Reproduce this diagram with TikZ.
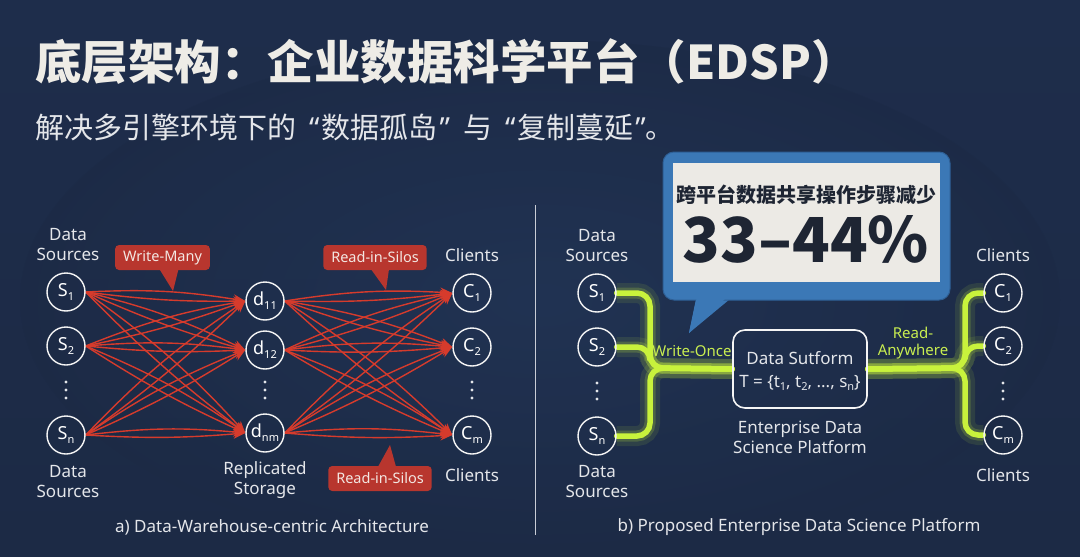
\documentclass[tikz,border=0pt]{standalone}
\usepackage{fontspec}
\setmainfont{Noto Sans}
\newfontfamily\cjk{Noto Sans CJK SC}
\usetikzlibrary{arrows.meta,calc}
\definecolor{bgtop}{HTML}{1E2D4B}
\definecolor{bgbot}{HTML}{1C2A45}
\definecolor{bgmid}{HTML}{24395C}
\definecolor{titlec}{HTML}{EEECE6}
\definecolor{textc}{HTML}{E4E6EA}
\definecolor{tagred}{HTML}{B8362E}
\definecolor{tagtext}{HTML}{F3E7E2}
\definecolor{wirered}{HTML}{D63B2C}
\definecolor{lime}{HTML}{C8F23C}
\definecolor{limetext}{HTML}{C9EE50}
\definecolor{callblue}{HTML}{3B78B6}
\definecolor{callborder}{HTML}{2E5F95}
\definecolor{paper}{HTML}{ECEAE5}
\definecolor{ink}{HTML}{1E2533}
\definecolor{divider}{HTML}{C9CDD6}
\pgfdeclarelayer{bglayer}
\pgfdeclarelayer{wires}
\pgfsetlayers{bglayer,wires,main}
\newcommand{\lowsub}[1]{\raisebox{-0.4ex}{\fontsize{11}{11}\selectfont #1}}
\newcommand{\myopenq}{{\rmfamily “}}
\newcommand{\mycloseq}{{\rmfamily ”}}
\tikzset{
  circ/.style={circle, draw=white!92!gray, line width=1.4pt, minimum size=38pt, inner sep=0pt, text=white, font=\fontsize{18}{18}\selectfont},
  lbl/.style={text=textc, font=\fontsize{17}{20}\selectfont, align=center},
  caption/.style={text=textc, font=\fontsize{17}{18}\selectfont},
  redtag/.style={fill=tagred, rounded corners=4pt, text=tagtext, font=\fontsize{14.5}{15}\selectfont, minimum height=25pt, inner xsep=8pt},
  redw/.style={draw=wirered, line width=1.4pt, -{Stealth[length=12pt,width=9.5pt]}},
  glow/.style={draw=lime, line width=5.5pt, rounded corners=13pt, line cap=round,
    preaction={draw=lime, opacity=.10, line width=20pt},
    preaction={draw=lime, opacity=.20, line width=11pt}},
  dotf/.style={fill=textc}
}
\begin{document}
\begin{tikzpicture}[x=1pt,y=-1pt]
\useasboundingbox (0,0) rectangle (1080,557);
\begin{pgfonlayer}{bglayer}
\shade[top color=bgtop, bottom color=bgbot] (0,0) rectangle (1080,557);
\shade[inner color=bgmid, outer color=bgbot, opacity=.55] (540,300) ellipse (520pt and 260pt);
\end{pgfonlayer}

% title
\node[anchor=west, text=titlec, font=\cjk\bfseries\fontsize{46.5}{46.5}\selectfont, inner sep=0pt] (title) at (35,62) {底层架构：企业数据科学平台（EDSP）};
\node[anchor=west, text=textc, font=\cjk\fontsize{29}{29}\selectfont, inner sep=0pt] (subtitle) at (35,127) {解决多引擎环境下的\hspace{13pt}\myopenq\hspace{2pt}数据孤岛\hspace{2pt}\mycloseq\hspace{13pt}与\hspace{13pt}\myopenq\hspace{2pt}复制蔓延\hspace{2pt}\mycloseq。};

% divider
\draw[divider, line width=1pt] (535,205) coordinate (divtop) -- (535,535) coordinate (divbot);

% ===== left diagram =====
\node[circ] (S1) at (66,292) {S\lowsub{1}};
\node[circ] (S2) at (66,346) {S\lowsub{2}};
\node[circ] (Sn) at (66,435) {S\lowsub{n}};
\node[circ] (d11) at (265,301) {d\lowsub{11}};
\node[circ] (d12) at (265,350) {d\lowsub{12}};
\node[circ] (dnm) at (265,433) {d\lowsub{nm}};
\node[circ] (C1) at (472,293) {C\lowsub{1}};
\node[circ] (C2) at (472,347) {C\lowsub{2}};
\node[circ] (Cm) at (472,435) {C\lowsub{m}};
\foreach \x in {66,265,472} \foreach \y in {382,390,398} \fill[dotf] (\x,\y) circle (1.7pt);

\node[lbl] (dsA) at (68,245) {Data\\Sources};
\node[lbl] (dsB) at (68,482) {Data\\Sources};
\node[lbl] (rep) at (265,480) {Replicated\\Storage};
\node[lbl] (clA) at (472,255) {Clients};
\node[lbl] (clB) at (472,475) {Clients};

\begin{pgfonlayer}{wires}
\foreach \s in {S1,S2,Sn} \foreach \d in {d11,d12,dnm} {
  \draw[redw] (\s.east) to[bend left=6] (\d.west);
  \draw[redw] (\s.east) to[bend right=4] (\d.west);
}
\foreach \s in {d11,d12,dnm} \foreach \d in {C1,C2,Cm} {
  \draw[redw] (\s.east) to[bend left=6] (\d.west);
  \draw[redw] (\s.east) to[bend right=4] (\d.west);
}
\end{pgfonlayer}

\node[redtag] (wm) at (162.5,257.5) {Write-Many};
\coordinate (wmtip) at (173,291);
\fill[tagred] ($(wm.south)+(-3,-1)$) -- ($(wm.south)+(16,-1)$) -- (wmtip) -- cycle;
\node[redtag] (rs1) at (375,257.5) {Read-in-Silos};
\coordinate (rs1tip) at (386,290);
\fill[tagred] ($(rs1.south)+(-4,-1)$) -- ($(rs1.south)+(14,-1)$) -- (rs1tip) -- cycle;
\node[redtag] (rs2) at (380,478.5) {Read-in-Silos};
\coordinate (rs2tip) at (390,445);
\fill[tagred] ($(rs2.north)+(-2,1)$) -- ($(rs2.north)+(16,1)$) -- (rs2tip) -- cycle;

\node[caption] (capA) at (272,527) {a) Data-Warehouse-centric Architecture};

% ===== right diagram =====
\node[circ] (R1) at (597,293) {S\lowsub{1}};
\node[circ] (R2) at (597,347) {S\lowsub{2}};
\node[circ] (Rn) at (597,436) {S\lowsub{n}};
\node[circ] (K1) at (1003,293) {C\lowsub{1}};
\node[circ] (K2) at (1003,346) {C\lowsub{2}};
\node[circ] (Km) at (1003,435) {C\lowsub{m}};
\foreach \x in {597,1003} \foreach \y in {383,391,399} \fill[dotf] (\x,\y) circle (1.7pt);

\node[draw=white!92!gray, line width=1.6pt, rounded corners=12pt, minimum width=134pt, minimum height=78pt] (plat) at (800,369) {};
\node[lbl] (platA) at (800,358) {Data Sutform};
\node[lbl] (platB) at (800,383) {T = \{t\lowsub{1}, t\lowsub{2}, ..., s\lowsub{n}\}};

\begin{pgfonlayer}{wires}
\draw[glow] (R1.east) -- (650,293) -- (650,368) -- (plat.west);
\draw[glow] (R2.east) -- (650,347) -- (650,368) -- (plat.west);
\draw[glow] (Rn.east) -- (650,436) -- (650,368) -- (plat.west);
\draw[glow] (plat.east) -- (965,368) -- (965,293) -- (K1.west);
\draw[glow] (plat.east) -- (965,368) -- (965,346) -- (K2.west);
\draw[glow] (plat.east) -- (965,368) -- (965,435) -- (Km.west);
\end{pgfonlayer}

\node[text=limetext, font=\fontsize{15}{15}\selectfont] (wo) at (692,351) {Write-Once};
\node[text=limetext, font=\fontsize{15}{17}\selectfont, align=center] (ra) at (913,343) {Read-\\Anywhere};

\node[lbl] (dsC) at (597,246) {Data\\Sources};
\node[lbl] (dsD) at (597,482) {Data\\Sources};
\node[lbl] (edsp) at (800,437) {Enterprise Data\\Science Platform};
\node[lbl] (clC) at (1003,255) {Clients};
\node[lbl] (clD) at (1003,475) {Clients};

% callout
\coordinate (ctip) at (689,333);
\fill[callblue] (697,294) -- (736,294) -- (ctip) -- cycle;
\node[fill=callblue, draw=callborder, line width=1pt, rounded corners=11pt, minimum width=287pt, minimum height=148pt] (callout) at (806.5,226) {};
\fill[callblue] (698.5,290) -- (734.5,290) -- (ctip) -- cycle;
\node[fill=paper, minimum width=267pt, minimum height=119pt, inner sep=0pt] (paperbox) at (806.5,222.5) {};
\node[text=ink, font=\cjk\bfseries\fontsize{20}{20}\selectfont] (ct1) at (806,195) {跨平台数据共享操作步骤减少};
\node[text=ink, font=\cjk\bfseries\fontsize{62}{62}\selectfont] (ct2) at (806,239) {33–44\%};

\node[caption] (capB) at (799,527) {b) Proposed Enterprise Data Science Platform};
\end{tikzpicture}
\end{document}
